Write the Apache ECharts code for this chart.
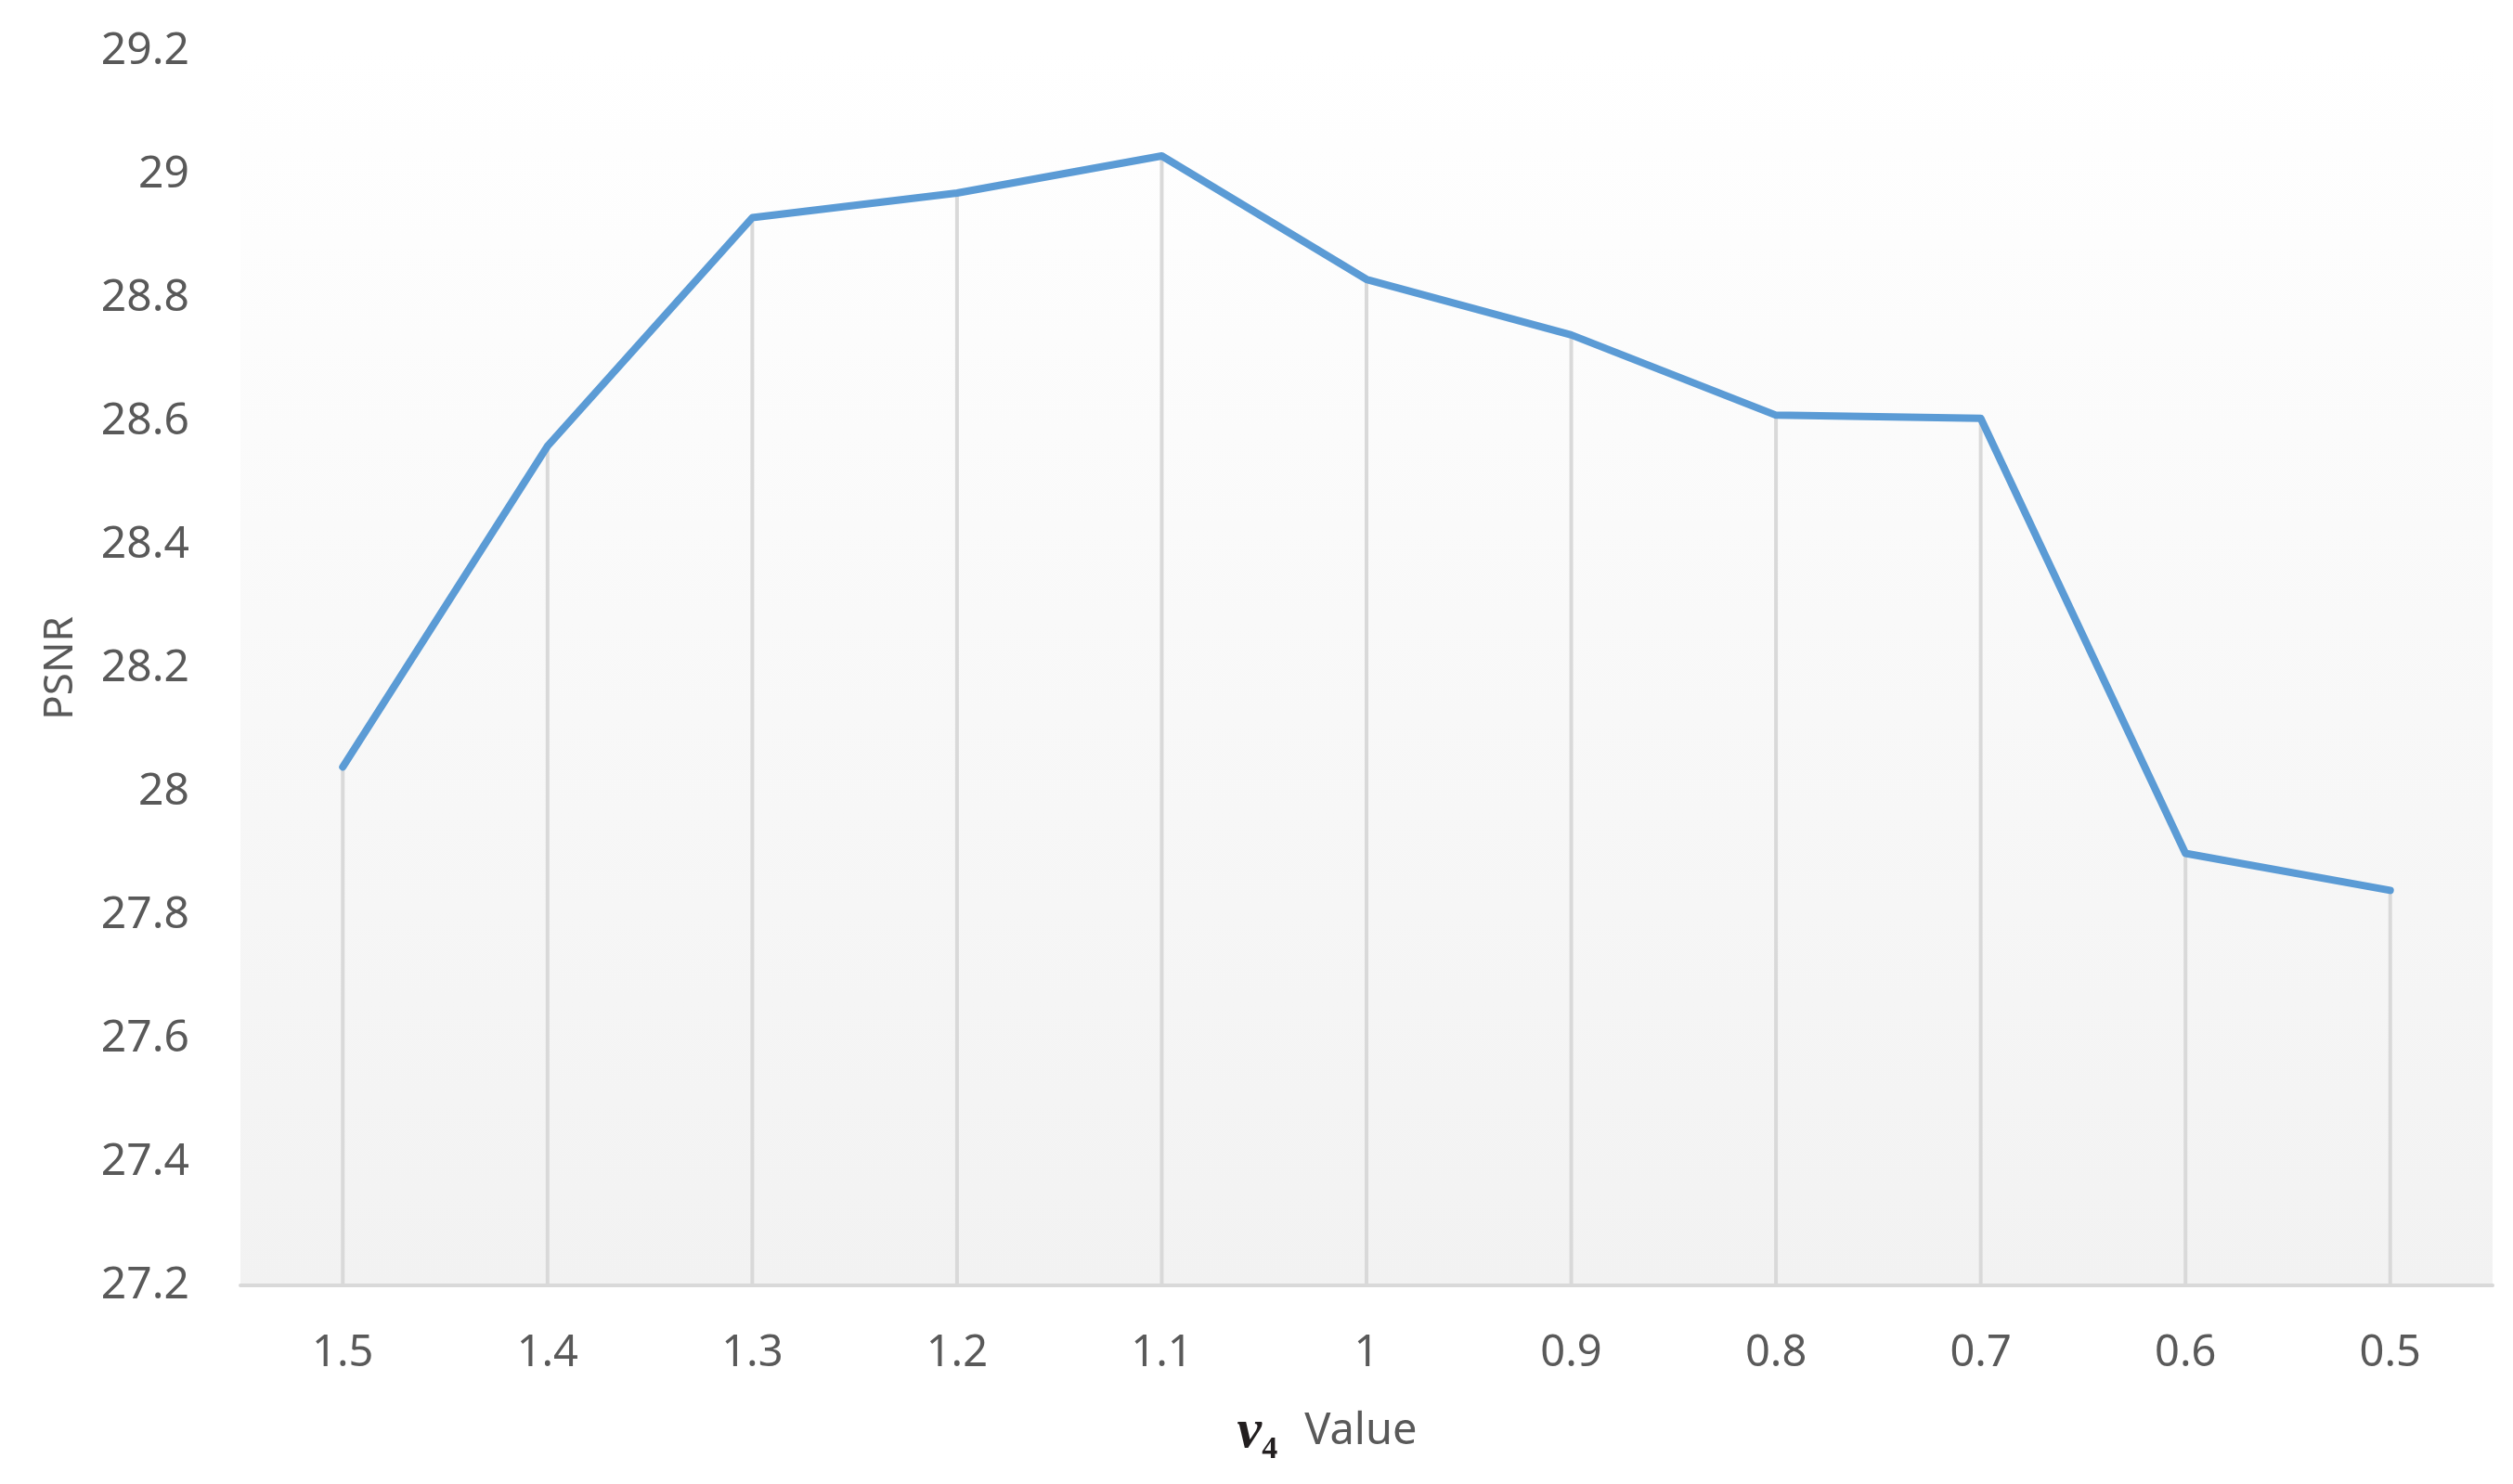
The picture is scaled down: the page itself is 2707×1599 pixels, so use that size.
<!DOCTYPE html>
<html>
<head>
<meta charset="utf-8">
<script src="https://cdn.jsdelivr.net/npm/echarts@6/dist/echarts.min.js"></script>
<style>
html,body{margin:0;padding:0;background:#fff;}
#chart{width:2707px;height:1599px;}
</style>
</head>
<body>
<div id="chart"></div>
<script>
const categories = ['1.5','1.4','1.3','1.2','1.1','1','0.9','0.8','0.7','0.6','0.5'];
const psnrValues = [28.04, 28.56, 28.93, 28.97, 29.03, 28.83, 28.74, 28.61, 28.605, 27.90, 27.84];
const yMin = 27.2, yMax = 29.2, yStep = 0.2;

const labelFont = 'Noto Sans';
const chart = echarts.init(document.getElementById('chart'));
chart.setOption({
  animation: false,
  backgroundColor: '#ffffff',
  grid: {
    left: 259, right: 22, top: 55, bottom: 214,
    show: true, borderWidth: 0,
    backgroundColor: new echarts.graphic.LinearGradient(0, 0, 0, 1, [
      {offset: 0, color: '#ffffff'},
      {offset: 1, color: '#f2f2f2'}
    ])
  },
  xAxis: {
    type: 'category',
    data: categories,
    boundaryGap: true,
    axisLine: {show: true, lineStyle: {color: '#d9d9d9', width: 4}},
    axisTick: {show: false},
    splitLine: {show: false},
    axisLabel: {color: '#595959', fontFamily: labelFont, fontSize: 47, margin: 50},
    name: '{nu|ν}{sub|4}{sp| }{v|Value}{pad| }',
    nameLocation: 'middle',
    nameGap: 122,
    nameTextStyle: {
      rich: {
        nu: {fontFamily: 'Liberation Serif', fontStyle: 'italic', fontWeight: 'bold', fontSize: 60, color: '#231f20'},
        sub: {fontFamily: 'Liberation Serif', fontWeight: 'bold', fontSize: 34, color: '#231f20', padding: [38, 0, 0, 0]},
        sp: {width: 29, fontSize: 46},
        v: {fontFamily: labelFont, fontSize: 47, color: '#595959'},
        pad: {width: 85, fontSize: 46}
      }
    }
  },
  yAxis: {
    type: 'value',
    min: yMin, max: yMax, interval: yStep,
    axisLine: {show: false},
    axisTick: {show: false},
    splitLine: {show: false},
    axisLabel: {color: '#595959', fontFamily: labelFont, fontSize: 48, margin: 55,
      formatter: v => String(Math.round(v * 10) / 10)},
    name: 'PSNR',
    nameLocation: 'middle',
    nameRotate: 90,
    nameGap: 172,
    nameTextStyle: {color: '#595959', fontFamily: labelFont, fontSize: 44}
  },
  series: [
    {
      type: 'bar',
      data: psnrValues,
      barWidth: 4,
      itemStyle: {color: '#d9d9d9'},
      silent: true,
      z: 1
    },
    {
      type: 'line',
      data: psnrValues,
      symbol: 'none',
      lineStyle: {color: '#5b9bd5', width: 8, join: 'round', cap: 'round'},
      z: 3
    }
  ]
});
</script>
</body>
</html>
